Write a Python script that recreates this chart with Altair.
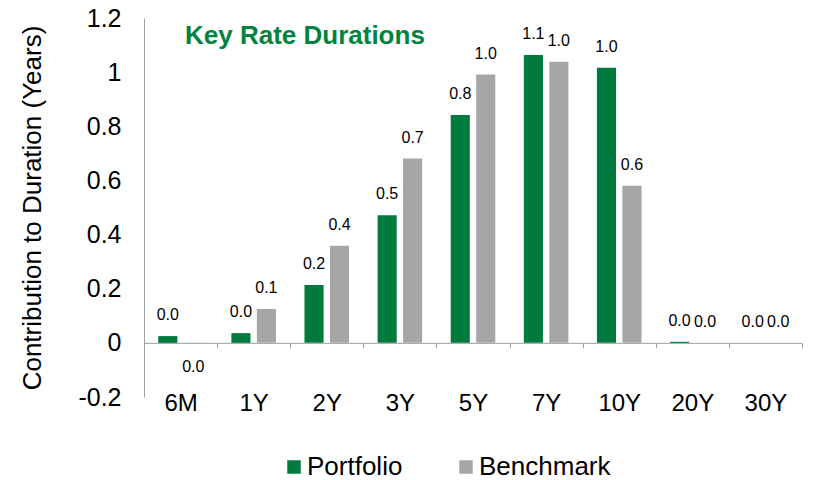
import altair as alt
import pandas as pd

TERMS = ["6M", "1Y", "2Y", "3Y", "5Y", "7Y", "10Y", "20Y", "30Y"]
SERIES = ["Portfolio", "Benchmark"]
PORTFOLIO = [0.025, 0.036, 0.214, 0.471, 0.842, 1.063, 1.016, 0.004, 0.0]
BENCHMARK = [-0.002, 0.125, 0.359, 0.681, 0.991, 1.038, 0.58, 0.0, 0.0]
Y_TICKS = [-0.2, 0, 0.2, 0.4, 0.6, 0.8, 1, 1.2]
TITLE = "Key Rate Durations"
Y_TITLE = "Contribution to Duration (Years)"
COLORS = ["#007A3D", "#A6A6A6"]

rows = []
for t, p, b in zip(TERMS, PORTFOLIO, BENCHMARK):
    rows.append({"term": t, "series": "Portfolio", "value": p})
    rows.append({"term": t, "series": "Benchmark", "value": b})
df = pd.DataFrame(rows)

W, H = 658, 379
FONT = "Liberation Sans"
AXIS_GRAY = "#A0A0A0"

x = alt.X(
    "term:N", sort=TERMS,
    scale=alt.Scale(paddingInner=0, paddingOuter=0),
    axis=alt.Axis(
        title=None, orient="bottom", offset=-H * 0.2 / 1.4,
        domainColor=AXIS_GRAY, tickColor=AXIS_GRAY, tickSize=5, tickBand="extent",
        labelPadding=44, labelFontSize=24, labelFont=FONT, labelColor="black", labelAngle=0,
    ),
)
xo = alt.XOffset("series:N", sort=SERIES, scale=alt.Scale(paddingInner=0.25, paddingOuter=0.56))
y = alt.Y(
    "value:Q", stack=None,
    scale=alt.Scale(domain=[-0.2, 1.2], nice=False, zero=True),
    axis=alt.Axis(
        title=Y_TITLE, values=Y_TICKS, labelExpr="toString(datum.value)",
        ticks=False, grid=False, domainColor=AXIS_GRAY, labelPadding=23,
        labelFontSize=25, labelFont=FONT, labelColor="black",
        titleFont=FONT, titleFontSize=26, titleFontWeight="normal", titleColor="black",
        titlePadding=32,
    ),
)

bars = alt.Chart(df).mark_bar().encode(
    x=x, xOffset=xo, y=y,
    color=alt.Color(
        "series:N", sort=SERIES,
        scale=alt.Scale(domain=SERIES, range=COLORS),
        legend=alt.Legend(
            title=None, orient="none", legendX=137, legendY=436, direction="horizontal",
            symbolType="square", symbolSize=182, symbolStrokeWidth=0, symbolOpacity=1,
            labelFontSize=26, labelFont=FONT, labelColor="black",
            columnPadding=50, labelOffset=0, padding=0,
        ),
    ),
)

txt = alt.Text("value:Q", format=".1f")
pos = alt.Chart(df).mark_text(dy=-21, fontSize=16, font=FONT, color="black").encode(
    x=x, xOffset=xo, y=y, text=txt
).transform_filter(alt.datum.value >= 0)
neg = alt.Chart(df).mark_text(dy=24, fontSize=16, font=FONT, color="black").encode(
    x=x, xOffset=xo, y=y, text=txt
).transform_filter(alt.datum.value < 0)

title = alt.Chart(pd.DataFrame({"t": [TITLE]})).mark_text(
    align="left", baseline="alphabetic", fontSize=26, fontWeight="bold", font=FONT, color="#00843D"
).encode(x=alt.value(41), y=alt.value(26), text="t:N")

chart = alt.layer(bars, pos, neg, title).properties(
    width=W, height=H,
    padding={"left": 136, "top": 10, "right": 3, "bottom": 83},
    autosize=alt.AutoSizeParams(type="none"),
).configure_view(stroke=None)

chart.save("out.html", embed_options={"renderer": "svg", "actions": False})
